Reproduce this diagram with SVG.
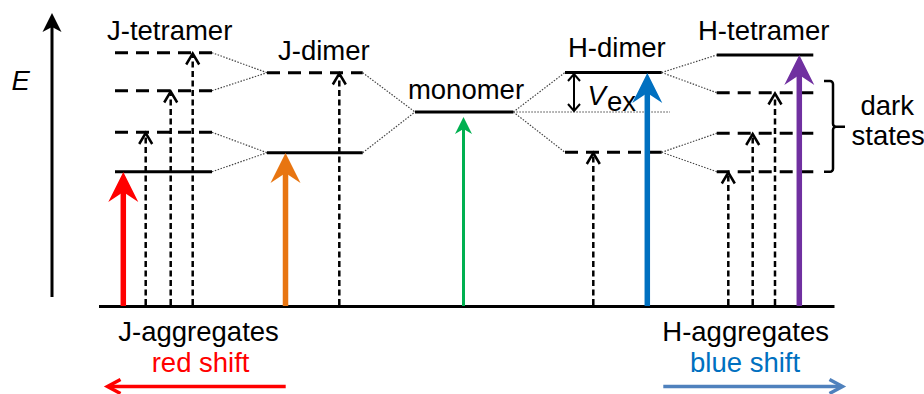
<svg xmlns="http://www.w3.org/2000/svg" width="924" height="394" viewBox="0 0 924 394">
  <style>
    text{font-family:"Liberation Sans",Arial,sans-serif;font-size:27.5px;fill:#000}
    .lvl{stroke:#000;stroke-width:3;fill:none}
    .dash{stroke-dasharray:13 8}
    .dot{stroke:#444;stroke-width:1.2;stroke-dasharray:1.5 1.5;fill:none}
    .tr{stroke:#000;stroke-width:2.5;stroke-dasharray:6 3.5;fill:none}
    .chev{stroke:#000;stroke-width:2.5;fill:none;stroke-linejoin:miter}
  </style>
  <defs>
    <path id="bighead" d="M0,0 L15,30 L0,20 L-15,30 Z"/>
    <path id="smallhead" d="M0,0 L8.5,17 L0,12 L-8.5,17 Z"/>
    <path id="openhead" d="M-6.5,11 L0,0 L6.5,11"/>
  </defs>

  <!-- energy axis and ground line -->
  <g id="axis">
    <line x1="52" y1="297" x2="52" y2="26" stroke="#000" stroke-width="3"/>
    <path d="M52,13 L61.5,32 L52,27 L42.5,32 Z" fill="#000"/>
    <text x="11.5" y="90" font-style="italic" font-size="28">E</text>
    <line x1="99" y1="306.5" x2="834.5" y2="306.5" stroke="#000" stroke-width="3"/>
  </g>

  <!-- correlation lines between levels -->
  <g id="connectors">
    <path class="dot" d="M212,52.7 L267,72.7 M212,90.7 L267,72.7 M212,132.3 L267,152.7 M212,171.7 L267,152.7"/>
    <path class="dot" d="M362.7,72.7 L415,112 M362.7,152.7 L415,112"/>
    <path class="dot" d="M513.3,112 L565,72.5 M513.3,112 L565,152.3 M513.3,112 L670,112"/>
    <path class="dot" d="M661.7,72.5 L716.7,55 M661.7,72.5 L716.7,92.7 M661.7,152.3 L716.7,133.3 M661.7,152.3 L716.7,171.7"/>
  </g>

  <g id="j-tetramer">
    <text x="107" y="40">J-tetramer</text>
    <line class="lvl dash" x1="115" y1="52.7" x2="212" y2="52.7"/>
    <line class="lvl dash" x1="115" y1="90.7" x2="212" y2="90.7"/>
    <line class="lvl dash" x1="115" y1="132.3" x2="212" y2="132.3"/>
    <line class="lvl" x1="115" y1="171.7" x2="212" y2="171.7"/>
  </g>

  <g id="j-dimer">
    <text x="278" y="60">J-dimer</text>
    <line class="lvl dash" x1="267" y1="72.7" x2="362.7" y2="72.7"/>
    <line class="lvl" x1="267" y1="152.7" x2="362.7" y2="152.7"/>
  </g>

  <g id="monomer">
    <text x="466" y="98.5" text-anchor="middle">monomer</text>
    <line class="lvl" x1="415" y1="112" x2="513.3" y2="112"/>
  </g>

  <g id="h-dimer">
    <text x="568" y="57">H-dimer</text>
    <line class="lvl" x1="565" y1="72.5" x2="661.7" y2="72.5"/>
    <line class="lvl dash" x1="565" y1="152.3" x2="661.7" y2="152.3"/>
    <!-- exciton coupling -->
    <line x1="574" y1="74" x2="574" y2="111" stroke="#000" stroke-width="2"/>
    <path d="M568,81 L574,74 L580,81 M568,104 L574,111 L580,104" stroke="#000" stroke-width="2" fill="none"/>
    <text x="587.5" y="105" font-style="italic">V</text>
    <text x="607" y="111" font-size="17">ex</text>
  </g>

  <g id="h-tetramer">
    <text x="698" y="39.5">H-tetramer</text>
    <line class="lvl" x1="716.7" y1="55" x2="813.3" y2="55"/>
    <line class="lvl dash" x1="716.7" y1="92.7" x2="813.3" y2="92.7"/>
    <line class="lvl dash" x1="716.7" y1="133.3" x2="813.3" y2="133.3"/>
    <line class="lvl dash" x1="716.7" y1="171.7" x2="813.3" y2="171.7"/>
  </g>

  <g id="dark-states">
    <path d="M824,81 h6 a3,3 0 0 1 3,3 v39.7 a3,3 0 0 0 3,3 h9 m-9,0 a3,3 0 0 0 -3,3 v39 a3,3 0 0 1 -3,3 h-6" stroke="#000" stroke-width="2.5" fill="none"/>
    <text x="860.5" y="115">dark</text>
    <text x="851.5" y="145">states</text>
  </g>

  <!-- optically allowed transitions -->
  <g id="bright-transitions">
    <line x1="123.3" y1="306" x2="123.3" y2="190" stroke="#ff0000" stroke-width="5.5"/>
    <use href="#bighead" x="123.3" y="172" fill="#ff0000"/>
    <line x1="285.5" y1="306" x2="285.5" y2="171" stroke="#e87511" stroke-width="5.5"/>
    <use href="#bighead" x="285.5" y="153" fill="#e87511"/>
    <line x1="463.5" y1="306" x2="463.5" y2="128" stroke="#00b050" stroke-width="3"/>
    <use href="#smallhead" x="463.5" y="117" fill="#00b050"/>
    <line x1="647.3" y1="306" x2="647.3" y2="91" stroke="#0070c0" stroke-width="5.5"/>
    <use href="#bighead" x="647.3" y="73" fill="#0070c0"/>
    <line x1="799.3" y1="306" x2="799.3" y2="73" stroke="#7030a0" stroke-width="5.5"/>
    <use href="#bighead" x="799.3" y="55" fill="#7030a0"/>
  </g>

  <!-- forbidden (dark) transitions -->
  <g id="dark-transitions">
    <line class="tr" x1="145.7" y1="305" x2="145.7" y2="134"/>
    <use class="chev" href="#openhead" x="145.7" y="133"/>
    <line class="tr" x1="170.7" y1="305" x2="170.7" y2="92"/>
    <use class="chev" href="#openhead" x="170.7" y="91.5"/>
    <line class="tr" x1="192.7" y1="305" x2="192.7" y2="54"/>
    <use class="chev" href="#openhead" x="192.7" y="53.5"/>
    <line class="tr" x1="339.3" y1="305" x2="339.3" y2="74"/>
    <use class="chev" href="#openhead" x="339.3" y="73.5"/>
    <line class="tr" x1="593.3" y1="305" x2="593.3" y2="154"/>
    <use class="chev" href="#openhead" x="593.3" y="153"/>
    <line class="tr" x1="728.3" y1="305" x2="728.3" y2="173"/>
    <use class="chev" href="#openhead" x="728.3" y="172.5"/>
    <line class="tr" x1="752.7" y1="305" x2="752.7" y2="135"/>
    <use class="chev" href="#openhead" x="752.7" y="134"/>
    <line class="tr" x1="775" y1="305" x2="775" y2="94"/>
    <use class="chev" href="#openhead" x="775" y="93.5"/>
  </g>

  <g id="j-aggregates">
    <text x="118.3" y="341">J-aggregates</text>
    <text x="151.7" y="371.7" style="fill:#ff0000">red shift</text>
    <line x1="285.7" y1="386.5" x2="109" y2="386.5" stroke="#ff0000" stroke-width="3.5"/>
    <path d="M120.5,379.5 L107.5,386.5 L120.5,393.5" stroke="#ff0000" stroke-width="3.5" fill="none"/>
  </g>

  <g id="h-aggregates">
    <text x="662.3" y="341">H-aggregates</text>
    <text x="690" y="371.7" style="fill:#0070c0">blue shift</text>
    <line x1="663.3" y1="386.5" x2="841" y2="386.5" stroke="#4f81bd" stroke-width="3.5"/>
    <path d="M829.5,379.5 L842.5,386.5 L829.5,393.5" stroke="#4f81bd" stroke-width="3.5" fill="none"/>
  </g>
</svg>
